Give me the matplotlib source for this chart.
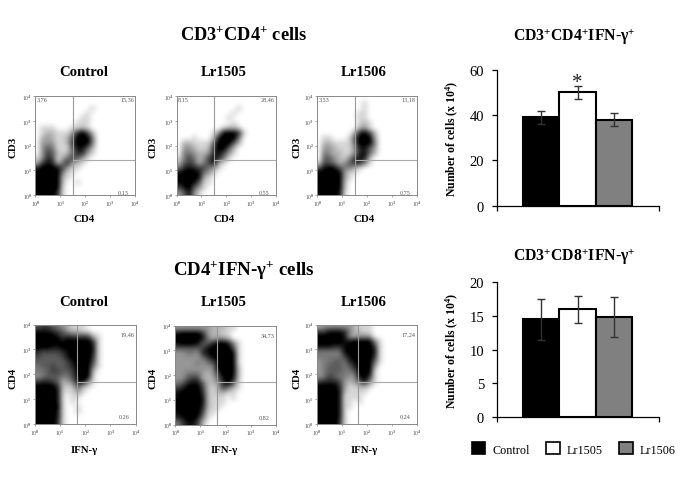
import numpy as np
import matplotlib
matplotlib.use("Agg")
import matplotlib.pyplot as plt
from matplotlib.colors import PowerNorm
from matplotlib.patches import Patch

plt.rcParams['font.family'] = ['Liberation Serif', 'DejaVu Serif']
plt.rcParams['mathtext.fontset'] = 'custom'
plt.rcParams['mathtext.rm'] = 'Liberation Serif:bold'
plt.rcParams['mathtext.bf'] = 'Liberation Serif:bold'
plt.rcParams['mathtext.it'] = 'Liberation Serif:bold'

W, H = 685, 489

groups = ["Control", "Lr1505", "Lr1506"]
bar_colors = ["#000000", "#ffffff", "#808080"]

cd4_means = [39, 50, 38]
cd4_errs = [3, 3, 3]
cd8_means = [14.5, 16, 14.8]
cd8_errs = [3, 2, 3]

decade_labels = ["10$^0$", "10$^1$", "10$^2$", "10$^3$", "10$^4$"]

# Darkness, 20x20 cells over four decades, top row first
grid_cd3_control = """
00000000000000000000
00000000000000000000
00000000000100000000
00000000001000000000
00000000011000000000
00000000111000000000
01110001121000000000
01221113796200000000
02321125999400000000
03331126999400000000
03541115885200000000
03652124773100000000
13761246531000000000
26872473210000000000
79998631100000000000
99999411000000000000
99999210000000000000
99999200100000000000
99999100000000000000
89997100000000000000
""".split()
grid_cd3_1505 = """
00000000000000000000
00000000000000000000
00000000000010000000
00000000000100000000
00000000001000000000
00000000000100000000
00000000012210000000
00000001399971000000
00010002899940000000
02211115999520000000
03321127995200000000
04432237863100000000
14642368741000000000
25652468210000000000
47876643100000000000
89998431000000000000
99998210000000000000
89985110000000000000
68953100000000000000
35831000000000000000
""".split()
grid_cd3_1506 = """
00000000000000000000
00000000010000000000
00000000010000000000
00000000110000000000
00000000110000000000
00000000121000000000
00000000231000000000
00000002796200000000
01100015999300000000
02211114999400000000
03321113785300000000
04322113785200000000
05532136882000000000
16542357741000000000
58985442100000000000
99999311000000000000
99999310000000000000
99999200000000000000
99999200000000000000
89998100000000000000
""".split()
grid_ifn_control = """
56654321110000000000
88876532211000000000
99998676666210000000
99999899999710000000
99988999999810000000
76666789999810000000
65555689999710000000
55555568999610000000
45565567999410000000
44566556999200000000
34555446899100000000
67765234894100000000
99997212521000000000
99998111310000000000
99998101100000000000
99998101000000000000
99999100100000000000
99998100100000000000
99998100000000000000
99997100000000000000
""".split()
grid_ifn_1505 = """
33333332221100000000
89999732211000000000
99999842332000000000
89998557998410000000
55555689999610000000
33443789999910000000
33333468999910000000
33334345899910000000
33333333999920000000
33444323699920000000
33566222589820000000
45788522379610000000
67999621264210000000
89999721221100000000
89999821110100000000
99999821110000000000
99999721100000000000
89999611000000000000
78998410000000000000
46886200000000000000
""".split()
grid_ifn_1506 = """
23333332111000000000
66888742211000000000
99999832333000000000
99999889999410000000
88877899999710000000
44444899999810000000
44444689999710000000
34455478999510000000
34555457999300000000
34555445999100000000
34654433897100000000
67776323584100000000
99997311221000000000
99998211110000000000
99998111100000000000
99998110100000000000
99998110000000000000
99998100000000000000
99998100000000000000
89997100000000000000
""".split()

pcts_cd3 = [("3,76", "15,36", "0,13"), ("8,15", "28,46", "0,55"), ("3,53", "13,18", "0,75")]
pcts_ifn = [("", "19,46", "0,26"), ("", "34,73", "0,82"), ("", "17,24", "0,24")]

fig = plt.figure(figsize=(W / 100, H / 100), dpi=100, facecolor="white")


def px_axes(x0, y0, x1, y1):
    return fig.add_axes([x0 / W, 1 - y1 / H, (x1 - x0) / W, (y1 - y0) / H])


def label(x, y, s, size, rotation=0, weight="bold", color="black"):
    fig.text(x / W, 1 - y / H, s, ha="center", va="center", fontsize=size,
             rotation=rotation, weight=weight, color=color)


def flow_panel(box, grid, qx, qy, pcts):
    ax = px_axes(*box)
    values = np.array([[int(c) for c in row] for row in grid], dtype=float)
    ax.imshow(values, cmap="gray_r", norm=PowerNorm(0.85, vmin=0, vmax=8.5),
              extent=(0, 4, 0, 4), interpolation="bicubic", aspect="auto", zorder=1)
    ax.set_xlim(0, 4)
    ax.set_ylim(0, 4)
    ax.plot([qx, qx], [0, 4], color="#999999", lw=0.8, zorder=2)
    ax.plot([qx, 4], [qy, qy], color="#aaaaaa", lw=0.8, zorder=2)
    for s in ax.spines.values():
        s.set_color("#888888")
        s.set_linewidth(0.7)
    ax.set_xticks(range(5), decade_labels)
    ax.set_yticks(range(5), decade_labels)
    ax.tick_params(length=1.5, width=0.4, color="#666666", labelsize=4,
                   labelcolor="#555555", pad=1)
    ul, ur, lr = pcts
    if ul:
        ax.text(0.05, 3.9, ul, fontsize=4.4, color="#555555", ha="left", va="center")
    ax.text(3.95, 3.62 if not ul else 3.9, ur, fontsize=4.4, color="#555555", ha="right", va="center")
    ax.text(3.75, 0.12 if ul else 0.32, lr, fontsize=4.4, color="#555555", ha="right", va="center")
    return ax


boxes_top = [(35.3, 97, 135, 196), (176.7, 97, 275.7, 196), (317.3, 97, 416.7, 196)]
boxes_bot = [(35, 325.5, 135.6, 425), (175.3, 326.5, 275.7, 425.5), (317, 325.5, 416.7, 425)]
grids_top = [grid_cd3_control, grid_cd3_1505, grid_cd3_1506]
grids_bot = [grid_ifn_control, grid_ifn_1505, grid_ifn_1506]
centers = [84, 224, 364]
ylab_x = [13, 153, 297]

for i in range(3):
    flow_panel(boxes_top[i], grids_top[i], 1.52, 1.41, pcts_cd3[i])
    flow_panel(boxes_bot[i], grids_bot[i], 1.66, 1.70, pcts_ifn[i])
    label(centers[i], 72, groups[i], 10.6)
    label(centers[i], 303, groups[i], 10.6)
    label(centers[i], 220, "CD4", 7.8)
    label(centers[i], 451, "IFN-γ", 7.8)
    label(ylab_x[i], 147, "CD3", 7.8, rotation=90)
    label(ylab_x[i], 378, "CD4", 7.8, rotation=90)

label(244, 35, r"$\text{CD3}^{+}\text{CD4}^{+}\text{ cells}$", 13.2)
label(244, 270, r"$\text{CD4}^{+}\text{IFN-γ}^{+}\text{ cells}$", 13.6)
label(574, 37, r"$\text{CD3}^{+}\text{CD4}^{+}\text{IFN-γ}^{+}$", 11.3)
label(574, 257, r"$\text{CD3}^{+}\text{CD8}^{+}\text{IFN-γ}^{+}$", 11.3)


def bar_panel(box, means, errs, ymax, yticks):
    ax = px_axes(*box)
    x = np.arange(3)
    ax.bar(x, means, width=1.0, color=bar_colors, edgecolor="black", linewidth=1.5, zorder=2)
    ax.errorbar(x, means, yerr=errs, fmt="none", ecolor="#333333", elinewidth=1,
                capsize=2.7, capthick=1, zorder=3)
    ax.set_xlim(-1.209, 3.227)
    ax.set_ylim(0, ymax)
    ax.spines[["top", "right"]].set_visible(False)
    ax.spines[["left", "bottom"]].set_linewidth(0.9)
    ax.set_xticks([-1.209, 3.227], ["", ""])
    ax.set_yticks(yticks)
    ax.tick_params(length=3.6, width=0.9)
    ax.tick_params(axis="y", labelsize=10.5, pad=5.5)
    ax.patch.set_alpha(0)
    return ax


ax1 = bar_panel((496.7, 70.7, 659, 206.7), cd4_means, cd4_errs, 60, [0, 20, 40, 60])
ax2 = bar_panel((496.7, 283, 659, 418.3), cd8_means, cd8_errs, 20, [0, 5, 10, 15, 20])
ax1.text(1, 54.3, "*", fontsize=15, ha="center", va="center", color="#222222")

ylab = r"$\text{Number of cells (x 10}^{4}\text{)}$"
label(452, 139, ylab, 8.5, rotation=90)
label(452, 351, ylab, 8.5, rotation=90)

handles = [Patch(facecolor=c, edgecolor="black", linewidth=1.2) for c in bar_colors]
fig.legend(handles, groups, ncol=3, frameon=False, fontsize=8.7,
           loc="center left", bbox_to_anchor=(472 / W, 1 - 450 / H),
           handlelength=1.08, handleheight=1.15, handletextpad=0.58,
           columnspacing=1.4, borderpad=0, borderaxespad=0)

fig.savefig("out.png", dpi=100, facecolor="white")
